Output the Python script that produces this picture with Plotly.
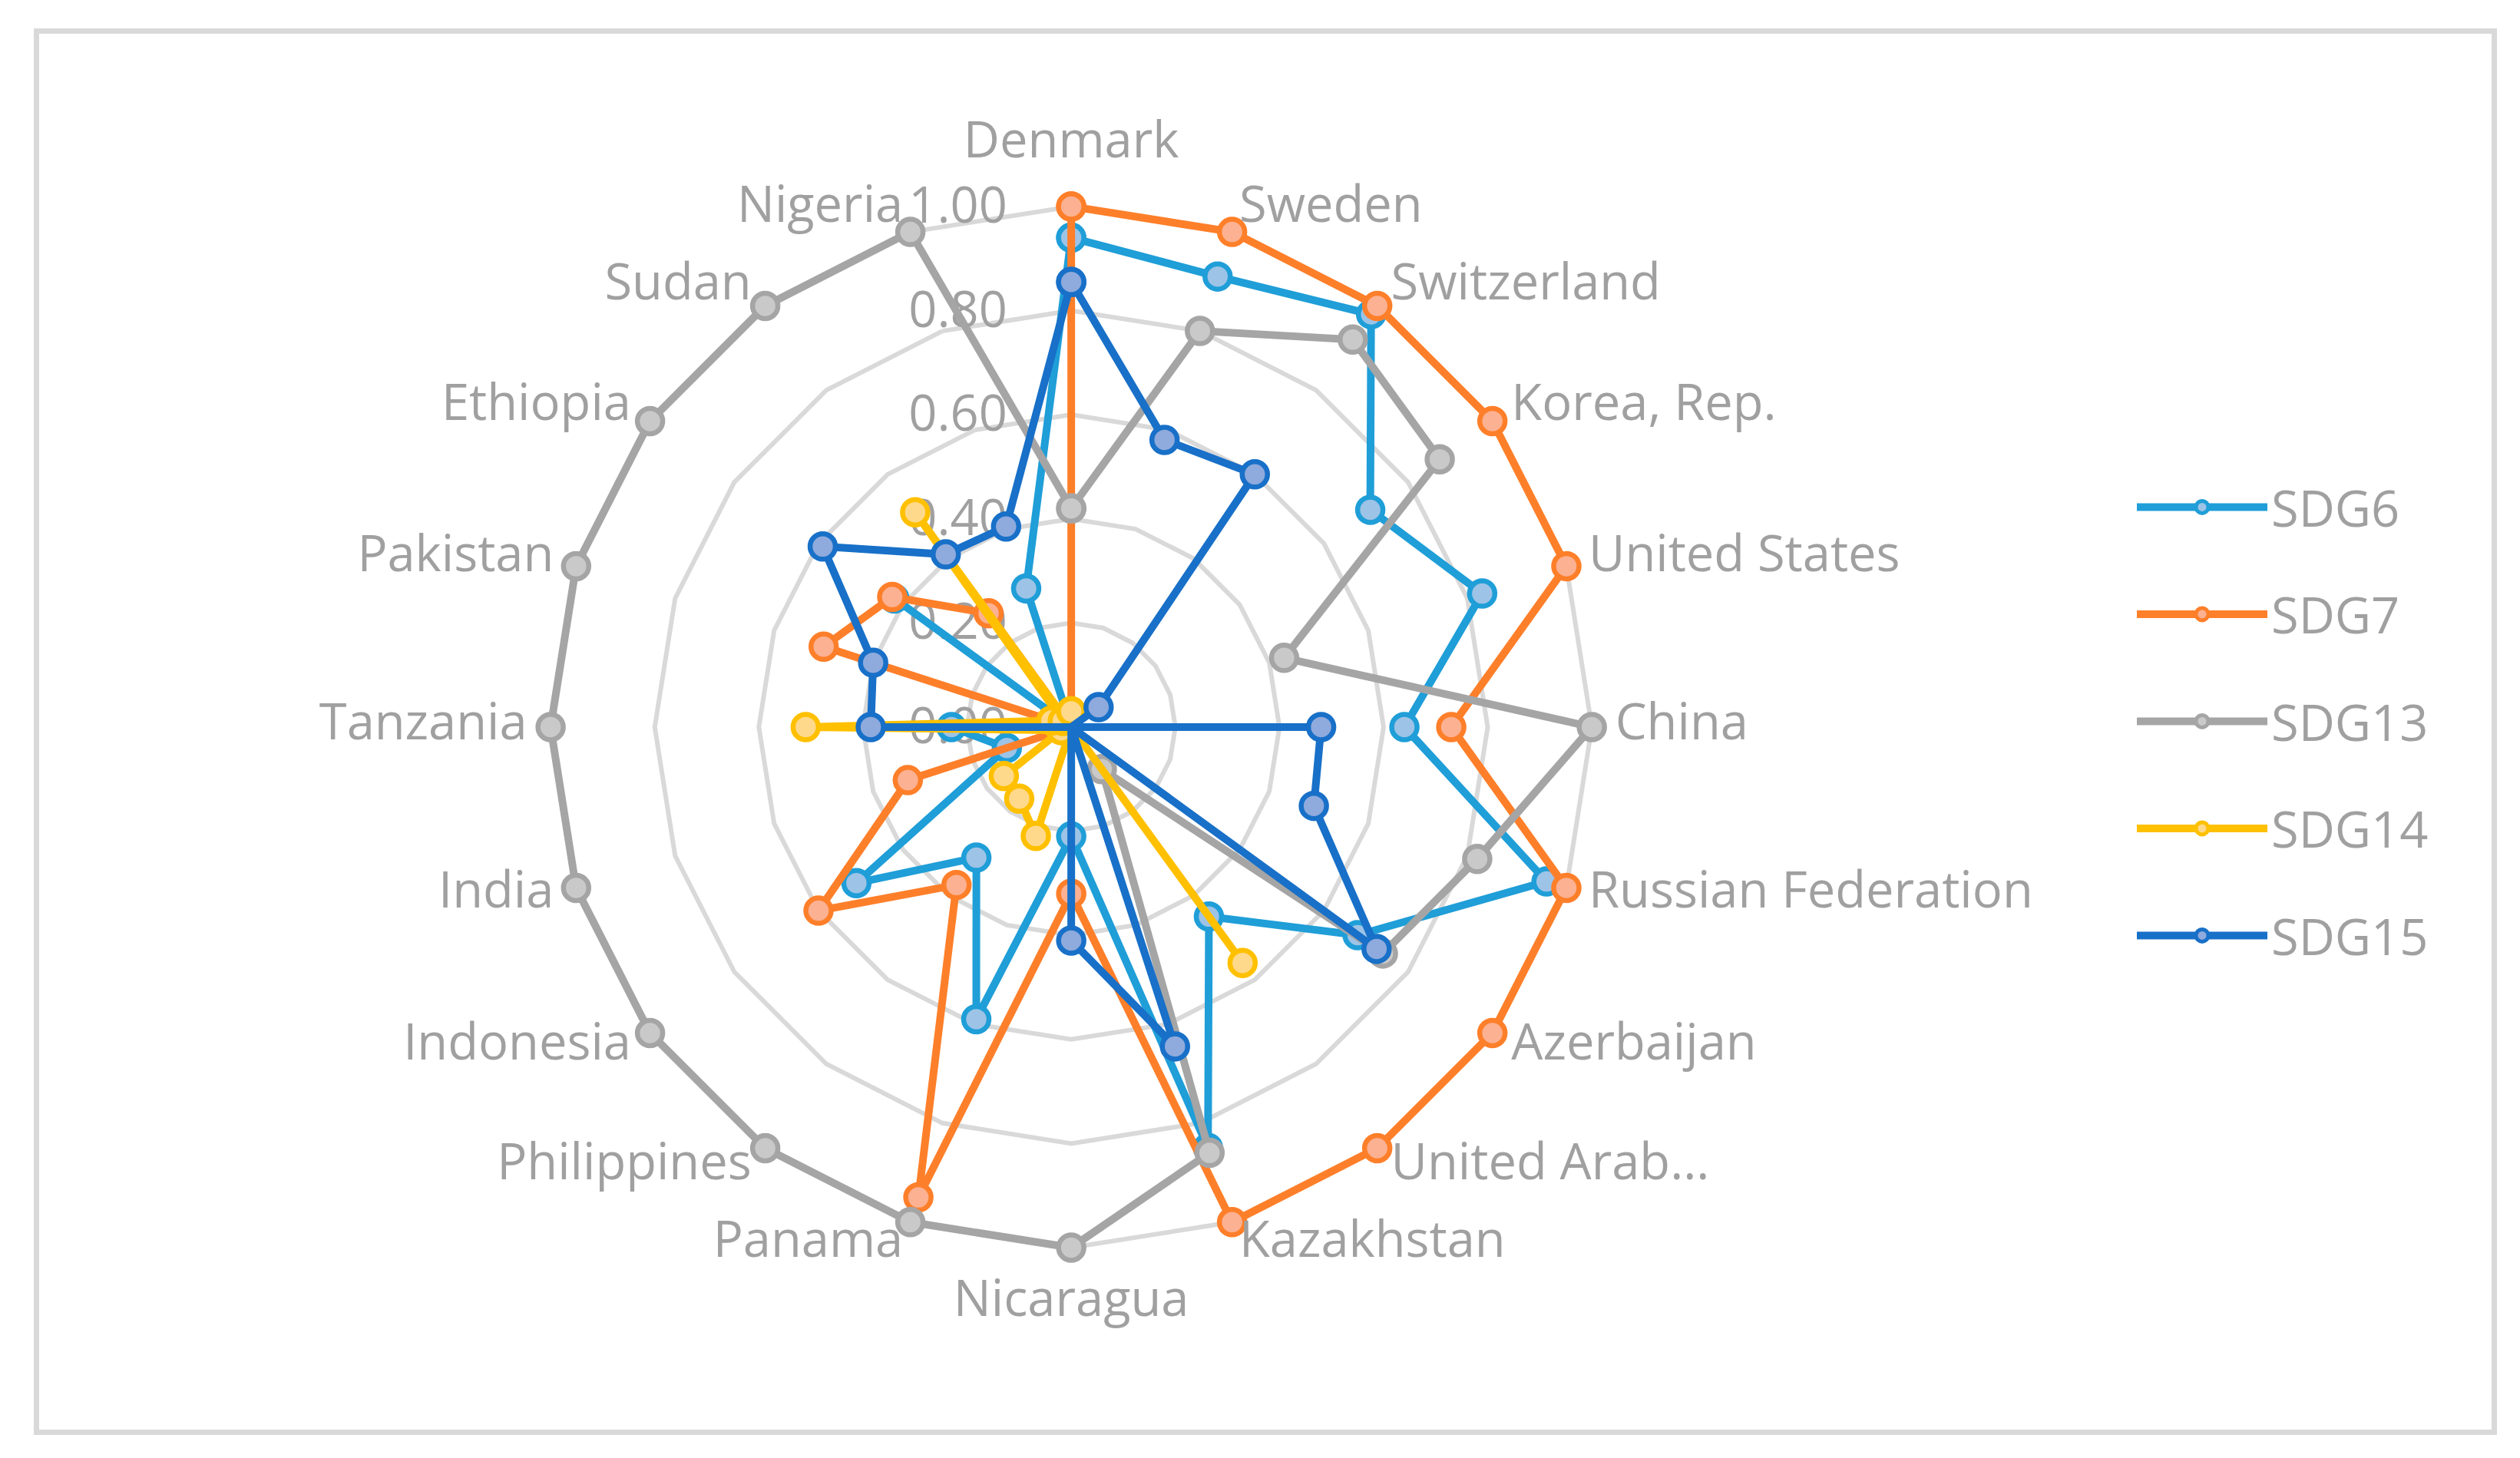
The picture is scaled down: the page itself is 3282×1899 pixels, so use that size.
import plotly.graph_objects as go

countries = [
    "Denmark", "Sweden", "Switzerland", "Korea, Rep.", "United States", "China",
    "Russian Federation", "Azerbaijan", "United Arab...", "Kazakhstan", "Nicaragua",
    "Panama", "Philippines", "Indonesia", "India", "Tanzania", "Pakistan",
    "Ethiopia", "Sudan", "Nigeria",
]

sdg6 = [0.94, 0.91, 0.98, 0.71, 0.83, 0.64, 0.96, 0.68, 0.45, 0.85,
        0.21, 0.59, 0.31, 0.51, 0.13, 0.23, 0.0, 0.42, 0.0, 0.28]
sdg7 = [1.0, 1.0, 1.0, 1.0, 1.0, 0.73, 1.0, 1.0, 1.0, 1.0,
        0.32, 0.95, 0.375, 0.60, 0.33, 0.0, 0.50, 0.425, 0.27, 0.0]
sdg13 = [0.42, 0.80, 0.92, 0.875, 0.43, 1.0, 0.82, 0.74, 0.10, 0.86,
         1.0, 1.0, 1.0, 1.0, 1.0, 1.0, 1.0, 1.0, 1.0, 1.0]
sdg14 = [0.03, 0.0, 0.0, 0.0, 0.0, 0.0, 0.0, 0.0, 0.56, 0.0,
         0.0, 0.22, 0.17, 0.16, 0.02, 0.51, 0.04, 0.02, 0.51, 0.0]
sdg15 = [0.855, 0.58, 0.60, 0.065, 0.0, 0.48, 0.49, 0.725, 0.0, 0.645,
         0.41, 0.0, 0.0, 0.0, 0.0, 0.385, 0.40, 0.59, 0.41, 0.405]

series = [
    ("SDG6", sdg6, "#1F9ED8", "#9DC3E6"),
    ("SDG7", sdg7, "#FE7F2A", "#FBB192"),
    ("SDG13", sdg13, "#A5A5A5", "#C9C9C9"),
    ("SDG14", sdg14, "#FFC000", "#FFD98B"),
    ("SDG15", sdg15, "#1870C8", "#8FAADC"),
]

grey = "#a0a0a0"
font = "Open Sans"
fsize = 65

fig = go.Figure()
for name, vals, line_col, fill_col in series:
    # close the polygon like Excel's radar chart
    fig.add_trace(go.Scatterpolar(
        r=vals + vals[:1],
        theta=countries + countries[:1],
        mode="lines+markers",
        name=name,
        legendgroup=name,
        cliponaxis=False,
        line=dict(color=line_col, width=10),
        marker=dict(size=33, color=fill_col, line=dict(color=line_col, width=6.5)),
        hoverinfo="skip",
    ))

# category labels placed Excel-style next to the outer vertices
n = len(countries)
label_pos, label_r = [], []
for i in range(n):
    if i == 0:
        label_pos.append("top center")
        label_r.append(1.07)
    elif i == n // 2:
        label_pos.append("bottom center")
        label_r.append(1.06)
    elif i < n // 2:
        label_pos.append("middle right")
        label_r.append(1.045)
    else:
        label_pos.append("middle left")
        label_r.append(1.045)

fig.add_trace(go.Scatterpolar(
    r=label_r,
    theta=countries,
    mode="text",
    text=countries,
    textposition=label_pos,
    textfont=dict(family=font, size=fsize, color=grey),
    cliponaxis=False,
    showlegend=False,
    hoverinfo="skip",
))

# radial range past 1 so outer lines and labels are not clipped
fig.update_layout(
    width=3282,
    height=1899,
    margin=dict(l=0, r=0, t=0, b=0),
    paper_bgcolor="white",
    font=dict(family=font, size=fsize, color=grey),
    polar=dict(
        domain=dict(x=[0.1954, 0.6499], y=[0.1128, 0.8983]),
        gridshape="linear",
        bgcolor="white",
        radialaxis=dict(
            range=[0, 1.10],
            tickvals=[0, 0.2, 0.4, 0.6, 0.8, 1.0],
            tickformat=".2f",
            angle=90,
            tickangle=90,
            side="counterclockwise",
            showline=False,
            gridcolor="#D9D9D9",
            gridwidth=6,
            ticks="outside",
            ticklen=60,
            tickcolor="rgba(0,0,0,0)",
            tickfont=dict(family=font, size=fsize, color=grey),
            layer="below traces",
        ),
        angularaxis=dict(
            rotation=90,
            direction="clockwise",
            showgrid=False,
            showline=False,
            showticklabels=False,
            ticks="",
            layer="below traces",
        ),
    ),
    legend=dict(
        x=0.844,
        y=0.5094,
        xanchor="left",
        yanchor="middle",
        itemwidth=170,
        tracegroupgap=52,
        font=dict(family=font, size=fsize, color=grey),
    ),
    shapes=[dict(
        type="rect", xref="paper", yref="paper",
        x0=39.5 / 3282, x1=3240.5 / 3282,
        y0=1 - 1857.5 / 1899, y1=1 - 32.5 / 1899,
        line=dict(color="#D9D9D9", width=7),
    )],
)

fig.write_html("out.html")
